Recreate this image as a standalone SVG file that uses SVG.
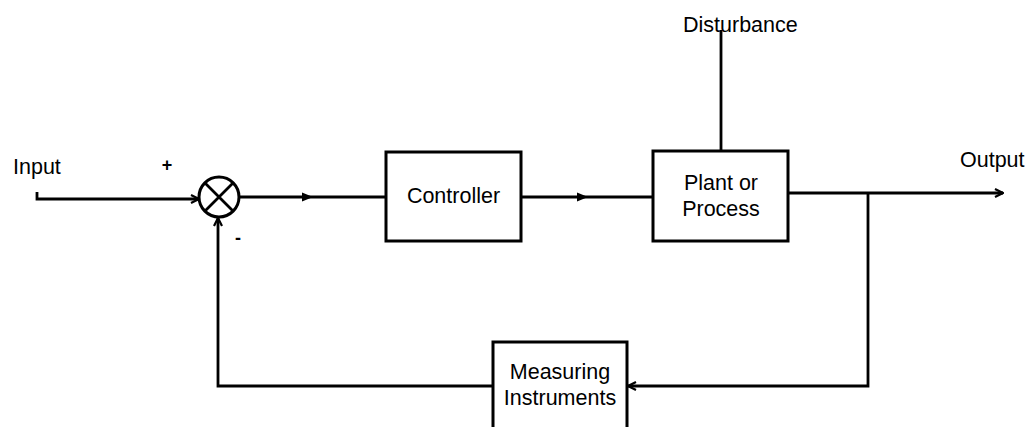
<svg xmlns="http://www.w3.org/2000/svg" width="1031" height="427" viewBox="0 0 1031 427">
  <style>
    .box { fill: #fff; stroke: #000; stroke-width: 3; }
    .wire { fill: none; stroke: #000; stroke-width: 2.8; }
    .lbl { font-family: "Liberation Sans", Arial, sans-serif; font-size: 21.5px; fill: #000; }
    .mid { text-anchor: middle; }
    .sign { font-weight: bold; font-size: 18px; }
  </style>
  <defs>
    <marker id="open" viewBox="0 0 10 10" refX="9" refY="5" markerWidth="10" markerHeight="10" markerUnits="userSpaceOnUse" orient="auto">
      <path d="M1,1 L9,5 L1,9" fill="none" stroke="#000" stroke-width="2.2"/>
    </marker>
  </defs>
  <rect width="1031" height="427" fill="#fff"/>

  <!-- signal lines -->
  <g id="connectors">
    <!-- input into summing junction -->
    <path class="wire" d="M37,192 V199 H199" marker-end="url(#open)"/>
    <!-- junction to controller -->
    <path class="wire" d="M240,197 H386"/>
    <path d="M302,192.5 L313,197 L302,201.5 Z" fill="#000"/>
    <!-- controller to plant -->
    <path class="wire" d="M521,197 H653"/>
    <path d="M577,192.5 L588,197 L577,201.5 Z" fill="#000"/>
    <!-- disturbance input -->
    <path class="wire" d="M721,30 V151"/>
    <!-- output -->
    <path class="wire" d="M788,193 H1003" marker-end="url(#open)"/>
    <!-- feedback path -->
    <path class="wire" d="M868,193 V386 H628" marker-end="url(#open)"/>
    <path class="wire" d="M493,386 H218 V218" marker-end="url(#open)"/>
  </g>

  <g id="input">
    <text class="lbl" x="13" y="174">Input</text>
  </g>

  <g id="summing-junction">
    <circle cx="219" cy="197" r="20" fill="#fff" stroke="#000" stroke-width="3"/>
    <path d="M205,183 L233,211 M233,183 L205,211" stroke="#000" stroke-width="2.8"/>
    <text class="lbl mid sign" x="167" y="171">+</text>
    <text class="lbl mid sign" x="238" y="244">-</text>
  </g>

  <g id="controller">
    <rect class="box" x="386" y="152" width="135" height="89"/>
    <text class="lbl mid" x="453.5" y="203">Controller</text>
  </g>

  <g id="plant">
    <rect class="box" x="653" y="151" width="135" height="90"/>
    <text class="lbl mid" x="721" y="190">Plant or</text>
    <text class="lbl mid" x="721" y="216">Process</text>
  </g>

  <g id="disturbance">
    <text class="lbl" x="683" y="32">Disturbance</text>
  </g>

  <g id="output">
    <text class="lbl" x="960" y="167">Output</text>
  </g>

  <g id="measuring">
    <rect class="box" x="493" y="342" width="134" height="95"/>
    <text class="lbl mid" x="560" y="379">Measuring</text>
    <text class="lbl mid" x="560" y="405">Instruments</text>
  </g>
</svg>
